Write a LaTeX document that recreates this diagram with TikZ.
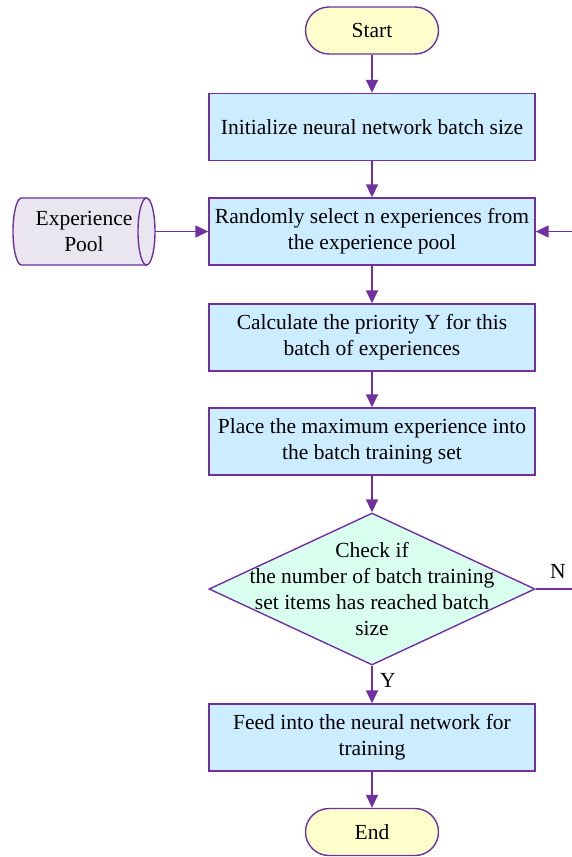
\documentclass[tikz,border=0pt]{standalone}
\usepackage{fontspec}
\setmainfont{Liberation Serif}
\newfontfamily\tnr{Liberation Serif}
\usetikzlibrary{arrows.meta,shapes.geometric}
\definecolor{pur}{RGB}{112,48,160}
\definecolor{startfill}{RGB}{255,255,204}
\definecolor{boxfill}{RGB}{204,236,255}
\definecolor{decfill}{RGB}{217,255,238}
\definecolor{poolfill}{RGB}{234,230,240}
\tikzset{
  txt/.style={font=\tnr\fontsize{21.5}{26}\selectfont},
  base/.style={txt, draw=pur, line width=1.4pt, align=center, inner sep=0pt},
  term/.style={base, rounded corners=23.5pt, fill=startfill, minimum width=133pt, minimum height=47pt},
  proc/.style={base, fill=boxfill, minimum width=326pt, minimum height=67pt},
  dec/.style={base, diamond, fill=decfill, minimum width=326pt, minimum height=152pt},
  conn/.style={draw=pur, line width=1.5pt, -{Triangle[length=13pt,width=12pt]}},
  pooledge/.style={draw=pur, line width=1.4pt}
}
\begin{document}
\begin{tikzpicture}[x=1pt,y=-1pt]
\useasboundingbox (0,0) rectangle (571,857);
% experience pool (horizontal cylinder)
\fill[poolfill] (146.5,198) -- (21.5,198) arc[start angle=90,end angle=270,x radius=8.5pt,y radius=33.5pt] -- (146.5,265) arc[start angle=-90,end angle=90,x radius=8.5pt,y radius=33.5pt] -- cycle;
\draw[pooledge] (146.5,198) -- (21.5,198) arc[start angle=90,end angle=270,x radius=8.5pt,y radius=33.5pt] -- (146.5,265);
\draw[pooledge] (146.5,231.5) ellipse[x radius=8.5pt,y radius=33.5pt];
\node[txt, align=center, minimum width=142pt, minimum height=67pt, inner sep=0pt] (pool) at (84,231.5) {Experience\\Pool};
\node[term] (start) at (372,30.5) {Start};
\node[proc] (b1) at (372,127) {Initialize neural network batch size};
\node[proc] (b2) at (372,231.5) {Randomly select n experiences from\\the experience pool};
\node[proc] (b3) at (372,337.5) {Calculate the priority Y for this\\batch of experiences};
\node[proc] (b4) at (372,441.5) {Place the maximum experience into\\the batch training set};
\node[dec] (d) at (372,589) {};
\node[txt, align=center] (dt) at (372,589) {Check if\\the number of batch training\\set items has reached batch\\size};
\node[proc] (b5) at (372,737.5) {Feed into the neural network for\\training};
\node[term] (end) at (372,832) {End};
\coordinate (r1) at (574,589);
\coordinate (r2) at (574,231.5);
\draw[conn] (start) -- (b1);
\draw[conn] (b1) -- (b2);
\draw[conn] (b2) -- (b3);
\draw[conn] (b3) -- (b4);
\draw[conn] (b4) -- (d);
\draw[conn] (d) -- node[txt, right=4pt, pos=0.4] (ylab) {Y} (b5);
\draw[conn] (b5) -- (end);
\draw[conn] (pool) -- (b2);
\draw[conn] (d.east) -- (r1) -- (r2) -- (b2.east);
\node[txt] (nlab) at (558,571) {N};
\end{tikzpicture}
\end{document}
